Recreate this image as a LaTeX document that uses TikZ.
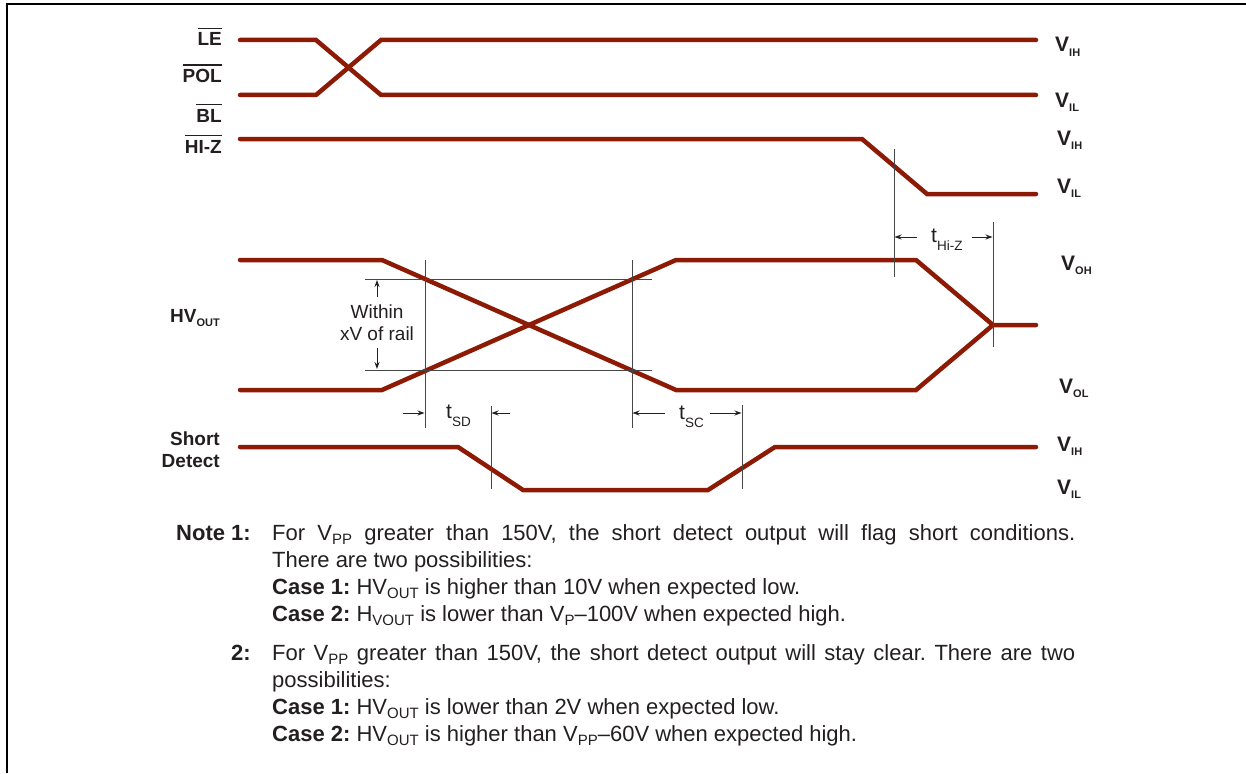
\documentclass[tikz,border=0pt]{standalone}
\usepackage{fontspec}
\setmainfont{Liberation Sans}
\usetikzlibrary{arrows.meta}
\definecolor{sig}{RGB}{140,26,4}
\definecolor{ink}{RGB}{35,31,32}
\definecolor{guide}{RGB}{70,70,70}
\newcommand{\ovl}[1]{\vbox{\hrule height 1.7pt\kern 3.6pt\hbox{#1}}}
\newcommand{\vsub}[1]{\raisebox{-4.5pt}{\fontsize{11}{11}\selectfont\bfseries #1}}
\newcommand{\tsub}[1]{\raisebox{-8.5pt}{\fontsize{13.5}{13.5}\selectfont #1}}
\newcommand{\mysub}[1]{\raisebox{-4.5pt}{\fontsize{15}{15}\selectfont #1}}
\tikzset{
  sigline/.style={draw=sig, line width=4.5pt, line cap=round, line join=miter},
  guideline/.style={draw=guide, line width=1pt},
  dimarrow/.style={draw=ink, line width=0.9pt, -{Stealth[length=7pt,width=5pt]}},
  lbl/.style={inner sep=0pt, text=ink, font=\fontsize{19}{22}\selectfont\bfseries},
  vlbl/.style={inner sep=0pt, text=ink, anchor=base west, font=\fontsize{21}{21}\selectfont\bfseries},
  tlbl/.style={inner sep=0pt, text=ink, anchor=base west, font=\fontsize{21}{21}\selectfont},
  wlbl/.style={inner sep=0pt, text=ink, anchor=base, font=\fontsize{19}{22}\selectfont},
  notetxt/.style={inner sep=0pt, text=ink, font=\fontsize{22}{27}\selectfont\frenchspacing}
}
\begin{document}
\begin{tikzpicture}[x=1pt,y=-1pt]
\useasboundingbox (0,0) rectangle (1246,773);
% frame
\draw[line width=2pt] (6.7,773) -- (6.7,4.3) -- (1246,4.3);

% signals
\draw[sigline] (240,40) -- (316,40) -- (381,95) -- (1036,95);
\draw[sigline] (240,95) -- (316,95) -- (381,40) -- (1036,40);
\draw[sigline] (240,139) -- (862,139) -- (927,194) -- (1036,194);
\draw[sigline] (240,260) -- (382,260) -- (676,390) -- (916,390) -- (993,325) -- (1036,325);
\draw[sigline] (240,390) -- (382,390) -- (676,260) -- (916,260) -- (993,325);
\draw[sigline] (240,447) -- (458,447) -- (523,490) -- (708,490) -- (775,447) -- (1036,447);

% guide lines
\draw[guideline] (365,279) -- (652,279);
\draw[guideline] (365,370) -- (652,370);
\draw[guideline] (425,260) -- (425,428);
\draw[guideline] (632,260) -- (632,428);
\draw[guideline] (491,406) -- (491,489);
\draw[guideline] (742,405) -- (742,489);
\draw[guideline] (894,149) -- (894,277);
\draw[guideline] (993,222) -- (993,347);

% dimension arrows
\coordinate (wu0) at (377,297); \coordinate (wu1) at (377,280);
\coordinate (wd0) at (377,348); \coordinate (wd1) at (377,369);
\draw[dimarrow] (wu0) -- (wu1);
\draw[dimarrow] (wd0) -- (wd1);
\coordinate (sd0) at (403,413); \coordinate (sd1) at (424.5,413);
\coordinate (sd2) at (510,413); \coordinate (sd3) at (491.5,413);
\draw[dimarrow] (sd0) -- (sd1);
\draw[dimarrow] (sd2) -- (sd3);
\coordinate (sc0) at (665,413); \coordinate (sc1) at (632.5,413);
\coordinate (sc2) at (710,413); \coordinate (sc3) at (741.5,413);
\draw[dimarrow] (sc0) -- (sc1);
\draw[dimarrow] (sc2) -- (sc3);
\coordinate (hz0) at (917,237); \coordinate (hz1) at (894.5,237);
\coordinate (hz2) at (972,237); \coordinate (hz3) at (992.5,237);
\draw[dimarrow] (hz0) -- (hz1);
\draw[dimarrow] (hz2) -- (hz3);

% left labels
\node[lbl, anchor=base east] (le) at (222,46) {\ovl{LE}};
\node[lbl, anchor=base east] (pol) at (222,83) {\ovl{POL}};
\node[lbl, anchor=base east] (bl) at (222,122) {\ovl{BL}};
\node[lbl, anchor=base east] (hiz) at (222,153) {\ovl{HI-Z}};
\node[lbl, anchor=base east] (hv) at (220,322) {HV\vsub{OUT}};
\node[lbl, anchor=base east] (sh) at (220,445) {Short};
\node[lbl, anchor=base east] (dt) at (220,467) {Detect};

% right labels
\node[vlbl] (v1) at (1055,52) {V\vsub{IH}};
\node[vlbl] (v2) at (1055,107) {V\vsub{IL}};
\node[vlbl] (v3) at (1057,145) {V\vsub{IH}};
\node[vlbl] (v4) at (1057,193) {V\vsub{IL}};
\node[vlbl] (v5) at (1061,270) {V\vsub{OH}};
\node[vlbl] (v6) at (1059,393) {V\vsub{OL}};
\node[vlbl] (v7) at (1057,451) {V\vsub{IH}};
\node[vlbl] (v8) at (1057,494) {V\vsub{IL}};

% timing labels
\node[tlbl] (tsd) at (446,418) {t\tsub{SD}};
\node[tlbl] (tsc) at (679,419) {t\tsub{SC}};
\node[tlbl] (thz) at (931,242) {t\tsub{Hi-Z}};
\node[wlbl] (win1) at (377,318) {Within};
\node[wlbl] (win2) at (377,340) {xV of rail};

% notes
\node[notetxt, anchor=base east, font=\fontsize{22}{27}\selectfont\bfseries] (n1) at (251,540) {Note 1:};
\node[notetxt, anchor=base west] (p1) at (272,540) {\parbox[t]{803pt}{For V\mysub{PP} greater than 150V, the short detect output will flag short conditions.\linebreak
There are two possibilities:\\
\textbf{Case 1:} HV\mysub{OUT} is higher than 10V when expected low.\\
\textbf{Case 2:} H\mysub{VOUT} is lower than V\mysub{P}–100V when expected high.}};
\node[notetxt, anchor=base east, font=\fontsize{22}{27}\selectfont\bfseries] (n2) at (251,660) {2:};
\node[notetxt, anchor=base west] (p2) at (272,660) {\parbox[t]{803pt}{For V\mysub{PP} greater than 150V, the short detect output will stay clear. There are two\linebreak
possibilities:\\
\textbf{Case 1:} HV\mysub{OUT} is lower than 2V when expected low.\\
\textbf{Case 2:} HV\mysub{OUT} is higher than V\mysub{PP}–60V when expected high.}};
\end{tikzpicture}
\end{document}
